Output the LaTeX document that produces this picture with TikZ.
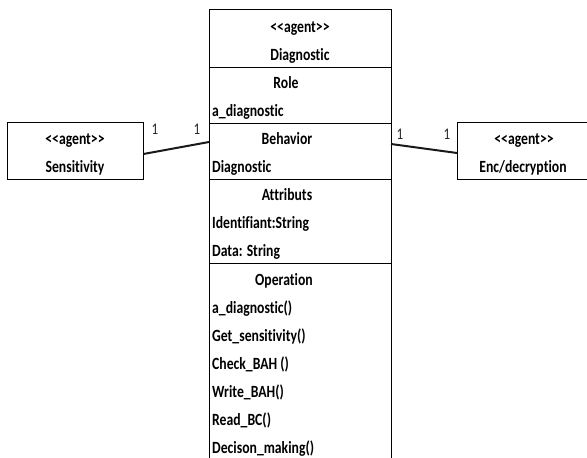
\documentclass[tikz,border=0pt]{standalone}
\usepackage{fontspec}
\setmainfont{Carlito}[Ligatures={NoCommon}]
\newcommand\tallt[1]{\scalebox{1}[1.25]{#1}}
\newcommand\stereo{<\kern0pt<agent>\kern0pt>}
\begin{document}
\begin{tikzpicture}[x=1pt,y=-1pt,
  txt/.style={font=\fontsize{13.7}{16}\selectfont\bfseries, inner sep=0pt, anchor=base},
  lft/.style={txt, anchor=base west},
  mult/.style={font=\fontsize{13}{15}\selectfont, inner sep=0pt, text=black!85},
  agentbox/.style={draw, line width=0.8pt, inner sep=0pt},
  conn/.style={line width=2pt, black!90}]
\useasboundingbox (0,0) rectangle (587,458);
% main class box (bottom runs off the picture)
\coordinate (mnw) at (209,9);
\coordinate (mne) at (391,9);
\coordinate (msw) at (209,460);
\coordinate (mse) at (391,460);
\draw[line width=0.8pt] (msw) -- (mnw) -- (mne) -- (mse);
\foreach \yy/\nm in {67/d1,123/d2,179/d3,263/d4}{
  \coordinate (\nm w) at (209,\yy);
  \coordinate (\nm e) at (391,\yy);
  \draw[line width=0.8pt] (\nm w) -- (\nm e);
}
\node[txt] (st) at (300,32) {\tallt{\stereo}};
\node[txt] (nm) at (300,60) {\tallt{Diagnostic}};
\node[txt] (h1) at (286,88) {\tallt{Role}};
\node[lft] (r1) at (212,116) {\tallt{a\_diagnostic}};
\node[txt] (h2) at (287,144) {\tallt{Behavior}};
\node[lft] (b1) at (212,172) {\tallt{Diagnostic}};
\node[txt] (h3) at (287,200) {\tallt{Attributs}};
\node[lft] (a1) at (212,228) {\tallt{Identifiant:String}};
\node[lft] (a2) at (212,256) {\tallt{Data: String}};
\node[txt] (h4) at (284,285) {\tallt{Operation}};
\node[lft] (o1) at (212,313) {\tallt{a\_diagnostic()}};
\node[lft] (o2) at (212,341) {\tallt{Get\_sensitivity()}};
\node[lft] (o3) at (212,369) {\tallt{Check\_BAH ()}};
\node[lft] (o4) at (212,397) {\tallt{Write\_BAH()}};
\node[lft] (o5) at (212,425) {\tallt{Read\_BC()}};
\node[lft] (o6) at (212,453) {\tallt{Decison\_making()}};
% side agents
\node[agentbox, minimum width=136, minimum height=57] (sens) at (75,150.5) {};
\node[txt] (sens1) at (75,144) {\tallt{\stereo}};
\node[txt] (sens2) at (75,172) {\tallt{Sensitivity}};
\node[agentbox, minimum width=132, minimum height=57, anchor=west] (enc) at (457,150.5) {};
\node[txt] (enc1) at (524,144) {\tallt{\stereo}};
\node[txt] (enc2) at (523,172) {\tallt{Enc/decryption}};
% connectors
\coordinate (lj) at (209,142);
\coordinate (rj) at (391,144);
\draw[conn] ([yshift=-3.5pt]sens.east) -- (lj);
\draw[conn] (rj) -- ([yshift=-2.5pt]enc.west);
\node[mult] (m1) at (155,129) {\tallt{1}};
\node[mult] (m2) at (197,129) {\tallt{1}};
\node[mult] (m3) at (400,134) {\tallt{1}};
\node[mult] (m4) at (447,134) {\tallt{1}};
\end{tikzpicture}
\end{document}
